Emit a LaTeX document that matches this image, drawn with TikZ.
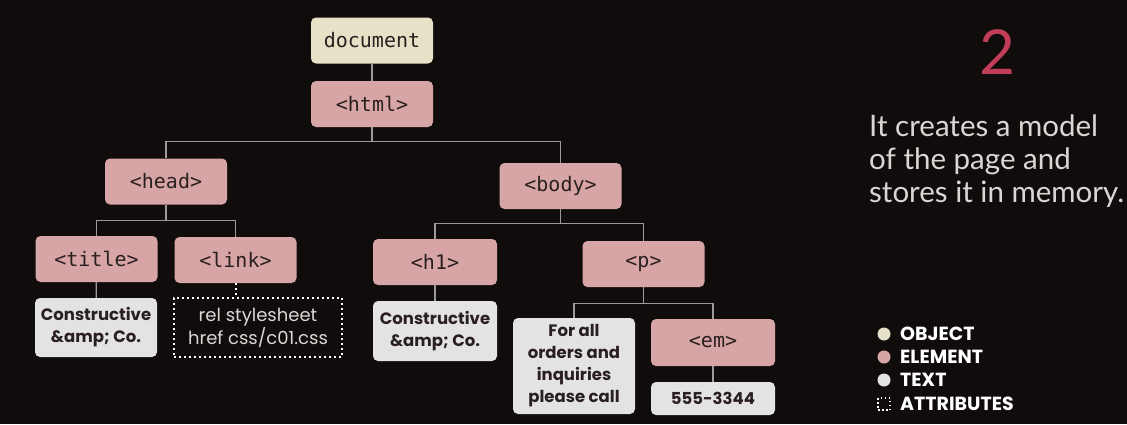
\documentclass[tikz,border=0pt]{standalone}
\usepackage{fontspec}
\usepackage{xcolor}
\usepackage{tikz}
\usetikzlibrary{positioning}
\setmainfont{Lato}
\newfontfamily\tagfont{DejaVu Sans Mono}
\newfontfamily\boxfont{Poppins}

\definecolor{bg}{HTML}{100C0B}
\definecolor{objfill}{HTML}{E6E2C7}
\definecolor{elfill}{HTML}{D8A5A6}
\definecolor{txtfill}{HTML}{E3E3E5}
\definecolor{ink}{HTML}{2A1F1F}
\definecolor{wirecol}{HTML}{9C9A9A}
\definecolor{stepred}{HTML}{C23E58}
\definecolor{paper}{HTML}{D9D7D5}

\tikzset{
  box/.style={rounded corners=5pt, minimum width=122pt, minimum height=46pt, inner sep=0pt, text=ink},
  objbox/.style={box, fill=objfill, font=\tagfont\fontsize{20}{22}\selectfont},
  elbox/.style={box, fill=elfill, font=\tagfont\fontsize{20}{22}\selectfont},
  txtbox/.style={box, fill=txtfill, minimum height=59pt, align=center,
    font=\boxfont\bfseries\fontsize{16.5}{22}\selectfont},
  attrbox/.style={box, draw=white, line width=2pt, dash pattern=on 2pt off 3pt, rounded corners=0pt,
    minimum width=168pt, minimum height=59pt, align=center, text=paper,
    font=\boxfont\fontsize{18}{23}\selectfont},
  wire/.style={draw=wirecol, line width=1.3pt},
  attrwire/.style={draw=white, line width=2pt, dash pattern=on 2pt off 3pt},
  legtext/.style={anchor=west, inner sep=0pt, text=white, font=\boxfont\bfseries\fontsize{19}{19}\selectfont}
}

\begin{document}
\begin{tikzpicture}[x=1pt, y=-1pt]
  \fill[bg] (0,0) rectangle (1127,424);
  \useasboundingbox (0,0) rectangle (1127,424);

  % tree
  \node[objbox] (doc) at (372,40.5) {document};
  \node[elbox] (html) at (372,104) {<html>};
  \node[elbox] (head) at (166,181.5) {<head>};
  \node[elbox] (body) at (560.5,186) {<body>};
  \node[elbox] (title) at (96.5,259) {<title>};
  \node[elbox] (link) at (235.5,260) {<link>};
  \node[elbox, minimum width=124pt] (h1) at (435,262) {<h1>};
  \node[elbox] (p) at (643.5,264) {<p>};
  \node[elbox, minimum width=124pt, minimum height=47pt] (em) at (713,342.5) {<em>};

  \node[txtbox] (titletext) at (96,327.5) {Constructive\\\&amp; Co.};
  \node[attrbox] (linkattr) at (258,327.5) {rel stylesheet\\href css/c01.css};
  \node[txtbox, minimum width=124pt, minimum height=60pt] (h1text) at (435,331) {Constructive\\\&amp; Co.};
  \node[txtbox, minimum height=96pt] (ptext) at (574,366) {For all\\orders and\\inquiries\\please call};
  \node[txtbox, minimum width=124pt, minimum height=33pt] (emtext) at (713,398.5) {555-3344};

  % connectors
  \draw[wire] (doc) -- (html);
  \draw[wire] (html.south) -- ++(0,14) -| (head.north);
  \draw[wire] (html.south) -- ++(0,14) -| (body.north);
  \draw[wire] (head.south) -- ++(0,16) -| (title.north);
  \draw[wire] (head.south) -- ++(0,16) -| (link.north);
  \draw[wire] (body.south) -- ++(0,14) -| (h1.north);
  \draw[wire] (body.south) -- ++(0,14) -| (p.north);
  \draw[wire] (p.south) -- ++(0,16) -| (ptext.north);
  \draw[wire] (p.south) -- ++(0,16) -| (em.north);
  \draw[wire] (title) -- (titletext);
  \draw[wire] (h1) -- (h1text);
  \draw[wire] (em) -- (emtext);
  \draw[attrwire] (link.south) -- (link.south |- linkattr.north);

  % step and caption
  \node[inner sep=0pt, text=stepred, font=\fontsize{62}{62}\selectfont] (stepno) at (997,52) {2};
  \node[anchor=north west, inner sep=0pt, align=left, text=paper,
    font=\fontsize{29.5}{33}\selectfont] (caption) at (869,115) {It creates a model\\of the page and\\stores it in memory.};

  % legend
  \fill[objfill] (884,334) circle (6.5pt);
  \fill[elfill] (884,357) circle (6.5pt);
  \fill[txtfill] (884,380) circle (6.5pt);
  \draw[white, line width=1.5pt, dash pattern=on 1.5pt off 2.5pt] (878,398) rectangle (890,410);
  \node[legtext] (legobj) at (900,334) {OBJECT};
  \node[legtext] (legel) at (900,357) {ELEMENT};
  \node[legtext] (legtxt) at (900,380) {TEXT};
  \node[legtext] (legattr) at (900,404) {ATTRIBUTES};
\end{tikzpicture}
\end{document}
